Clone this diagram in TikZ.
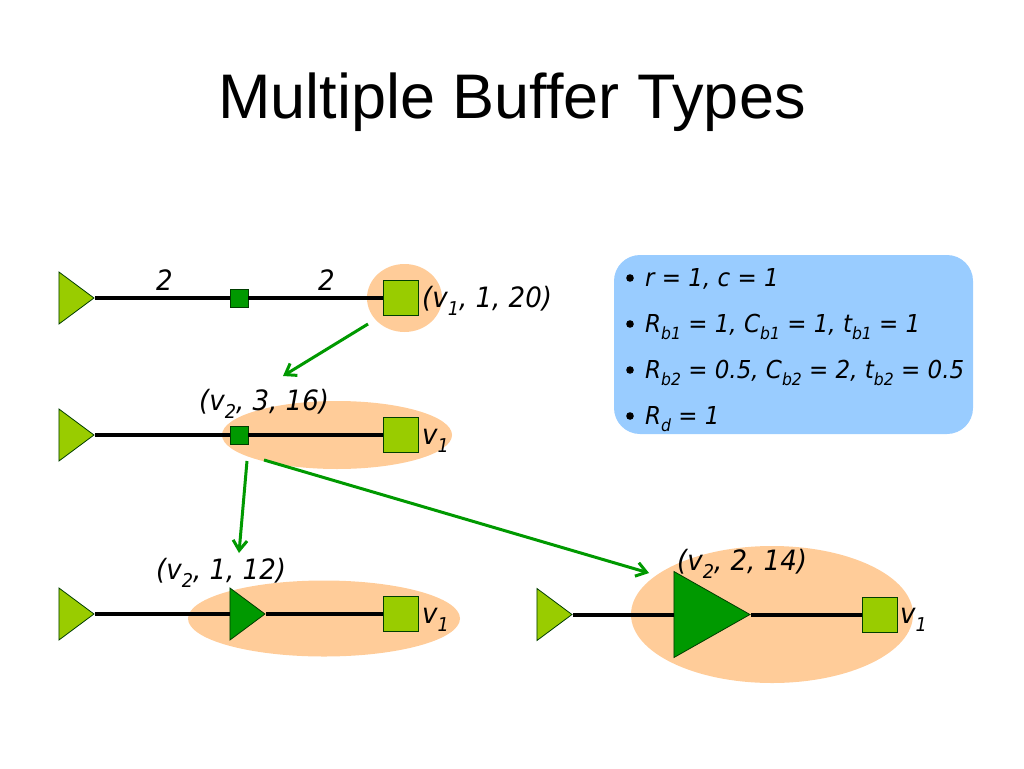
\documentclass[tikz,border=0pt]{standalone}
\usepackage{fontspec}
\setmainfont{DejaVu Sans}
\newfontfamily\labfont[FakeStretch=0.93]{DejaVu Sans}
\newfontfamily\titlefont{Liberation Sans}
\usetikzlibrary{shapes.geometric,arrows.meta}
\definecolor{lightgrn}{HTML}{99CC00}
\definecolor{darkgrn}{HTML}{009900}
\definecolor{peach}{HTML}{FFCC99}
\definecolor{skyblue}{HTML}{99CCFF}
\newcommand{\lowidx}[1]{\raisebox{-0.3em}{\scalebox{0.68}{#1}}}
\tikzset{
  lab/.style={font=\fontsize{28}{30}\labfont\itshape,inner sep=0pt,anchor=base west},
  boxlab/.style={font=\fontsize{24.7}{27}\labfont\itshape,inner sep=0pt,anchor=base west},
  zone/.style={ellipse,fill=peach,inner sep=0pt},
  wire/.style={line width=4pt,black},
  move/.style={line width=3pt,darkgrn,-{Straight Barb[length=10pt,width=14pt,line width=3pt]}},
  tri/.style={isosceles triangle,isosceles triangle stretches,draw=black!60!darkgrn,line width=0.8pt,inner sep=0pt,anchor=apex},
  srcbuf/.style={tri,fill=lightgrn,minimum width=52pt,minimum height=35pt},
  sink/.style={rectangle,draw=black!60!darkgrn,line width=0.8pt,fill=lightgrn,minimum size=35pt,inner sep=0pt},
  smallbuf/.style={rectangle,draw=black!60!darkgrn,line width=0.8pt,fill=darkgrn,minimum size=18pt,inner sep=0pt},
}
\begin{document}
\begin{tikzpicture}[x=1pt,y=-1pt]
\useasboundingbox (0,0) rectangle (1024,768);

\node[inner sep=0pt,anchor=base,font=\fontsize{63}{68}\titlefont] (title) at (512,118) {Multiple Buffer Types};

% orange zones
\node[zone,minimum width=75pt,minimum height=68pt] (zone1) at (404.5,298) {};
\node[zone,minimum width=230pt,minimum height=68pt] (zone2) at (337,435) {};
\node[zone,minimum width=272pt,minimum height=76pt] (zone3) at (324,618.5) {};
\node[zone,minimum width=282pt,minimum height=137pt] (zone4) at (772,614.5) {};

% wires
\node[srcbuf] (drva) at (95,298) {};
\node[smallbuf] (bufa) at (239,298) {};
\node[sink] (sinka) at (401,298) {};
\draw[wire] (drva.apex)--(bufa.west);
\draw[wire] (bufa.east)--(sinka.west);

\node[srcbuf] (drvb) at (95,435) {};
\node[smallbuf] (bufb) at (239,435) {};
\node[sink] (sinkb) at (401,435) {};
\draw[wire] (drvb.apex)--(bufb.west);
\draw[wire] (bufb.east)--(sinkb.west);

\node[srcbuf] (drvc) at (95,614) {};
\node[tri,fill=darkgrn,minimum width=52pt,minimum height=35pt] (bufc) at (266,614) {};
\node[sink] (sinkc) at (401,614) {};
\draw[wire] (drvc.apex)--(bufc.lower side);
\draw[wire] (bufc.apex)--(sinkc.west);

\node[srcbuf] (drvd) at (573,614.5) {};
\node[tri,fill=darkgrn,minimum width=86pt,minimum height=76pt] (bufd) at (751,614.5) {};
\node[sink] (sinkd) at (879.5,614.5) {};
\draw[wire] (drvd.apex)--(bufd.lower side);
\draw[wire] (bufd.apex)--(sinkd.west);

% labels
\node[lab] (twoa) at (156,290) {2};
\node[lab] (twob) at (318,290) {2};
\node[lab] (laba) at (422,307) {(v\lowidx{1}, 1, 20)};
\node[lab] (labb) at (199,410) {(v\lowidx{2}, 3, 16)};
\node[lab] (vb) at (422,444) {v\lowidx{1}};
\node[lab] (labc) at (156,579) {(v\lowidx{2}, 1, 12)};
\node[lab] (vc) at (422,623) {v\lowidx{1}};
\node[lab] (labd) at (677,570) {(v\lowidx{2}, 2, 14)};
\node[lab] (vd) at (900,623) {v\lowidx{1}};

% moves
\coordinate (ma) at (368,324);
\coordinate (mb) at (283,376);
\coordinate (mc) at (247,461);
\coordinate (md) at (239,553);
\coordinate (me) at (264,460);
\coordinate (mf) at (649,573);
\draw[move] (ma)--(mb);
\draw[move] (mc)--(md);
\draw[move] (me)--(mf);

% parameter box
\node[rectangle,rounded corners=26pt,fill=skyblue,minimum width=359pt,minimum height=179pt] (params) at (793.5,344.5) {};
\foreach \y/\t in {286/{r = 1, c = 1},
  332/{R\lowidx{b1} = 1, C\lowidx{b1} = 1, t\lowidx{b1} = 1},
  378/{R\lowidx{b2} = 0.5, C\lowidx{b2} = 2, t\lowidx{b2} = 0.5},
  424/{R\lowidx{d} = 1}}{
  \fill (630,\y-8) circle (3.8pt);
  \node[boxlab] at (645,\y) {\t};
}
\end{tikzpicture}
\end{document}
